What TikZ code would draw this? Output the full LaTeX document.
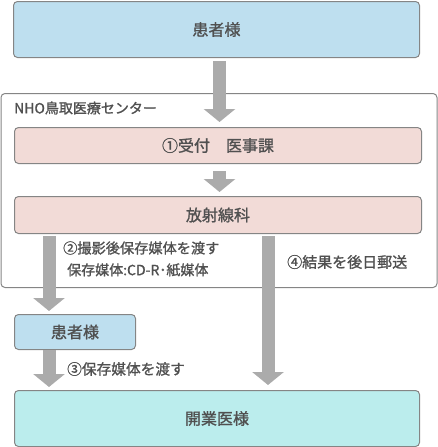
\documentclass[tikz,border=0pt]{standalone}
\usepackage{fontspec}
\setmainfont{Noto Sans CJK JP}[FakeBold=1.2]
\usetikzlibrary{arrows.meta,calc}
\definecolor{txt}{HTML}{505050}
\definecolor{bordc}{HTML}{858585}
\definecolor{arrc}{HTML}{ABABAB}
\definecolor{blueA}{HTML}{BEDFEF}
\definecolor{pinkA}{HTML}{F2DBD7}
\definecolor{cyanA}{HTML}{BBEDED}
\begin{document}
\begin{tikzpicture}[x=1pt,y=-1pt,
  box/.style={draw=bordc, line width=1pt, rounded corners=4pt, anchor=north west,
    inner sep=0pt, text=txt, font=\fontsize{16}{16}\selectfont},
  lbl/.style={anchor=west, inner sep=0pt, text=txt},
  blk/.style={line width=13pt, draw=arrc, fill=arrc,
    -{Triangle[width=31pt,length=13pt]}}]
\useasboundingbox (0,0) rectangle (438,447);
% outer frame
\node[box, fill=white, minimum width=436pt, minimum height=194pt] (center) at (0.5,93) {};
\node[lbl, font=\fontsize{14}{14}\selectfont] (ctrlabel) at (14,108) {NHO鳥取医療センター};
% boxes
\node[box, fill=blueA, minimum width=406pt, minimum height=56pt] (top) at (13,1) {患者様};
\node[box, fill=pinkA, minimum width=407pt, minimum height=36pt] (rec) at (14,127) {①受付　医事課};
\node[box, fill=pinkA, minimum width=407pt, minimum height=37pt] (rad) at (14,196) {放射線科};
\node[box, fill=blueA, minimum width=121pt, minimum height=35pt] (pat) at (14,314) {患者様};
\node[box, fill=cyanA, minimum width=405pt, minimum height=56pt] (doc) at (14,390) {開業医様};
% labels
\node[lbl, font=\fontsize{14.2}{14.2}\selectfont] (l2) at (63,248) {②撮影後保存媒体を渡す};
\node[lbl, font=\fontsize{14}{14}\selectfont] (l2b) at (67,270) {保存媒体:CD-R･紙媒体};
\node[lbl, font=\fontsize{15}{15}\selectfont] (l4) at (287,262) {④結果を後日郵送};
\node[lbl, font=\fontsize{14.7}{14.7}\selectfont] (l3) at (67,369) {③保存媒体を渡す};
% arrows
\coordinate (a1s) at ($(top.south)+(3,3)$);
\draw[blk] (a1s) -- ($(a1s |- rec.north)+(0,-5)$);
\coordinate (a2s) at ($(a1s |- rec.south)+(0,7)$);
\draw[blk] (a2s) -- ($(a2s |- rad.north)+(0,-4)$);
\coordinate (a3s) at ($(rad.south west)+(35,2)$);
\draw[blk] (a3s) -- ($(a3s |- pat.north)+(0,-3)$);
\coordinate (a4s) at ($(rad.south west)+(254,2)$);
\draw[blk] (a4s) -- ($(a4s |- doc.north)+(0,-5)$);
\coordinate (a5s) at ($(pat.south west)+(35,0)$);
\draw[blk] (a5s) -- ($(a5s |- doc.north)+(0,-3)$);
\end{tikzpicture}
\end{document}
